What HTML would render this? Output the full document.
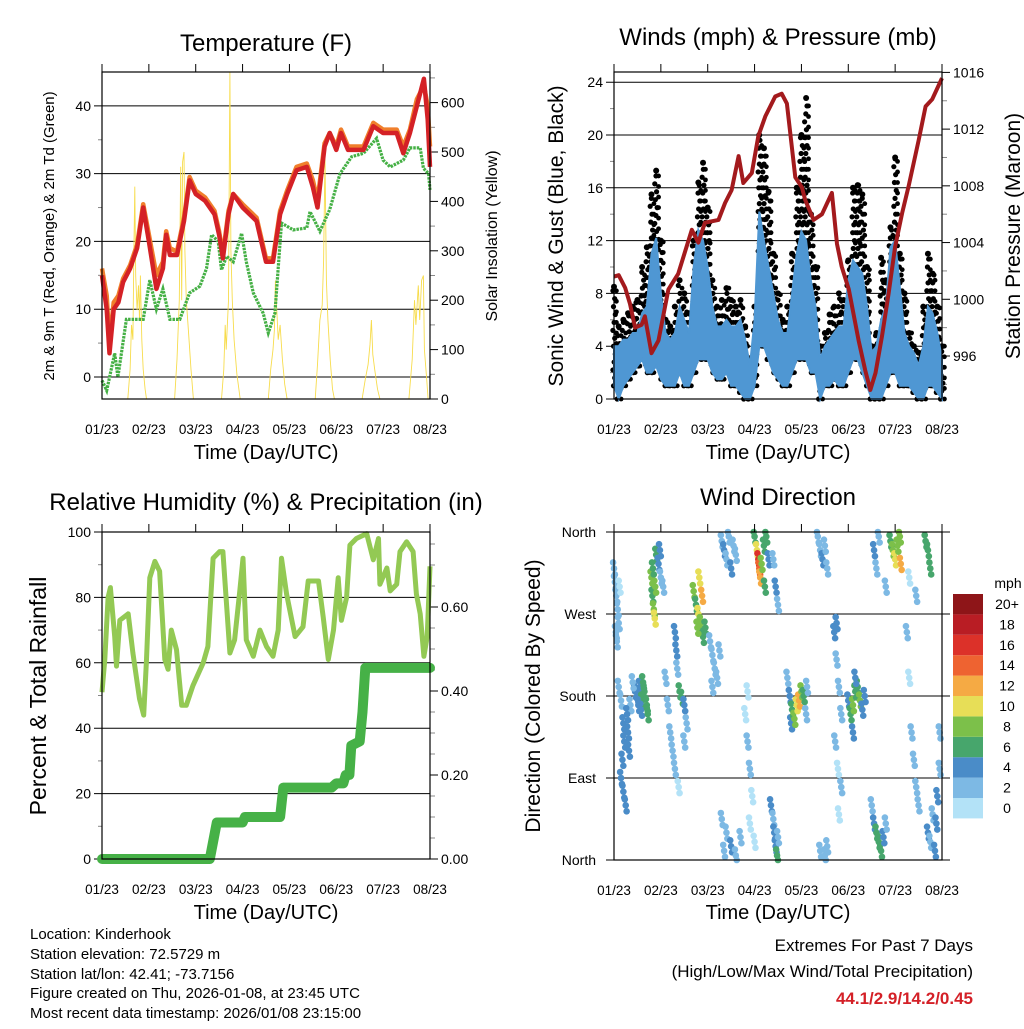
<!DOCTYPE html>
<html><head><meta charset="utf-8"><style>
html,body{margin:0;padding:0;background:#fff;}
svg text{font-family:"Liberation Sans",sans-serif;fill:#000;}
</style></head><body>
<svg id="c" width="1024" height="1024" viewBox="0 0 1024 1024" xmlns="http://www.w3.org/2000/svg">
<rect x="0" y="0" width="1024" height="1024" fill="#fff"/>
<text x="266" y="51" font-size="24" text-anchor="middle">Temperature (F)</text>
<text x="778" y="45" font-size="24" text-anchor="middle">Winds (mph) &amp; Pressure (mb)</text>
<text x="266" y="510" font-size="24" text-anchor="middle">Relative Humidity (%) &amp; Precipitation (in)</text>
<text x="778" y="505" font-size="24" text-anchor="middle">Wind Direction</text>
<text transform="translate(54,236) rotate(-90)" font-size="15" text-anchor="middle">2m &amp; 9m T (Red, Orange) &amp; 2m Td (Green)</text>
<text transform="translate(497,236) rotate(-90)" font-size="16" text-anchor="middle">Solar Insolation (Yellow)</text>
<text transform="translate(563,236) rotate(-90)" font-size="21" text-anchor="middle">Sonic Wind &amp; Gust (Blue, Black)</text>
<text transform="translate(1020,236) rotate(-90)" font-size="21" text-anchor="middle">Station Pressure (Maroon)</text>
<text transform="translate(46,696) rotate(-90)" font-size="23" text-anchor="middle">Percent &amp; Total Rainfall</text>
<text transform="translate(540,696) rotate(-90)" font-size="21" text-anchor="middle">Direction (Colored By Speed)</text>
<text x="266" y="459" font-size="20" text-anchor="middle">Time (Day/UTC)</text>
<text x="778" y="459" font-size="20" text-anchor="middle">Time (Day/UTC)</text>
<text x="266" y="919" font-size="20" text-anchor="middle">Time (Day/UTC)</text>
<text x="778" y="919" font-size="20" text-anchor="middle">Time (Day/UTC)</text>
<text x="30" y="939" font-size="15">Location: Kinderhook</text>
<text x="30" y="959" font-size="15">Station elevation: 72.5729 m</text>
<text x="30" y="979" font-size="15">Station lat/lon: 42.41; -73.7156</text>
<text x="30" y="998" font-size="15">Figure created on Thu, 2026-01-08, at 23:45 UTC</text>
<text x="30" y="1018" font-size="15">Most recent data timestamp: 2026/01/08 23:15:00</text>
<text x="973" y="951" font-size="17" text-anchor="end">Extremes For Past 7 Days</text>
<text x="973" y="977" font-size="17" text-anchor="end">(High/Low/Max Wind/Total Precipitation)</text>
<text x="973" y="1004" font-size="17" font-weight="bold" text-anchor="end" style="fill:#d42027">44.1/2.9/14.2/0.45</text>
</svg>
<script>
// ---- data ----
const dayLabels = ["01/23","02/23","03/23","04/23","05/23","06/23","07/23","08/23"];
const tempTimes = [0,0.1,0.16,0.25,0.35,0.45,0.6,0.75,0.88,1.0,1.16,1.3,1.37,1.45,1.6,1.75,1.87,2.0,2.2,2.4,2.5,2.58,2.7,2.8,3.0,3.3,3.5,3.65,3.8,3.95,4.15,4.37,4.5,4.6,4.75,4.86,5.0,5.1,5.25,5.58,5.79,6.0,6.29,6.43,6.57,6.72,6.87,6.95,7.0];
const temp2m = [15,10,3.5,10,11,14,16,19,25,20,13,16,21,18,18,23,29,27,26,24,21,17.5,24,27,25,23,17,17,24,27,30.5,31,28,25,34,36,33.5,36,33.5,33.5,37,36,36,33,36,40,44,38,31];
const temp9m = [16,12,5,11,12,14.5,16.5,19.5,25.5,21,15,17,21.5,19,18.5,23.5,29.5,27.5,26.5,24.5,21.5,18,24.5,27,25.5,23.5,17.5,17.5,24.5,27.5,31,31.5,29,26,34.5,36,34,36.5,34,34,37.5,36.5,36.5,34,36.5,41,43,40,34];
const dewTimes = [0,0.1,0.27,0.34,0.52,0.88,1.02,1.16,1.3,1.45,1.66,1.87,2.09,2.23,2.34,2.48,2.55,2.66,2.8,2.98,3.08,3.23,3.44,3.55,3.69,3.83,4.08,4.37,4.44,4.65,4.86,5.08,5.33,5.58,5.86,6.0,6.15,6.43,6.57,6.79,6.86,6.97,7.0];
const dew2m = [-0.5,-2,3.5,0,8.5,8.5,14.3,10,13,8.5,8.5,12.4,13.4,16,21,20,15.8,17.8,17,21.2,17,12.4,9.4,6.5,9.4,22.7,21.7,22,24.4,21.5,24.7,30,32.5,33,35.2,32,31,32,33.8,33.8,30.8,30,27.6];
const solarTimes = [0.55,0.6,0.63,0.66,0.68,0.7,0.72,0.75,0.78,0.8,0.82,0.85,0.88,0.92,0.95,
 1.55,1.6,1.65,1.68,1.7,1.72,1.75,1.77,1.8,1.85,1.9,1.95,
 2.55,2.6,2.63,2.65,2.7,2.73,2.75,2.78,2.82,2.88,2.95,
 3.55,3.6,3.65,3.68,3.7,3.73,3.76,3.8,3.85,3.9,3.95,
 4.55,4.6,4.65,4.7,4.73,4.76,4.79,4.82,4.87,4.92,4.96,
 5.55,5.62,5.68,5.72,5.75,5.78,5.82,5.88,5.93,
 6.55,6.62,6.67,6.7,6.75,6.78,6.82,6.86,6.88,6.93,6.96];
const solarValues = [0,60,150,120,300,430,250,180,230,160,250,120,60,20,0,
 0,80,200,470,200,480,500,300,200,130,60,0,
 0,60,150,100,200,663,300,200,120,50,0,
 0,60,100,140,240,180,120,150,80,30,0,
 0,70,160,190,280,490,240,160,80,20,0,
 0,40,70,110,160,90,60,20,0,
 0,80,200,150,230,160,240,250,100,40,0];
// wind, every 0.1 day from 01/23
const windHigh = [4,4,4.5,4.5,5,5,6.5,7,11,12.2,8,5,4.5,5,7,6,5,10,12.8,12,10,7,5.5,5.5,6,5.5,5.5,6,4.5,2.5,6,14.2,12,10,8,6,5,5,8,11,12.7,12,9,7,3,4,4.5,5,5.5,5.5,9,10.5,10,9.5,7,3.5,4,6,7,11.5,12,8.5,5,4,3.5,2.5,4,7,6.5,5,3];
const windLow = [1,0,1,1.5,2,2.5,3,2,2,2.5,1.5,1,1,1,2,1,1,2,3,3,3,2,1.5,1.5,2,1,1,0.5,0,0,1,4,4,3,2,1.5,1,1,2,3,3,3,2,2,0,1,1,1.5,1,1,2,3,3,2,1,0,0,0,1,2,2,1,1,1,0.5,0,0,1,1,0.5,0];
const windGust = [8.5,5.5,6,6.5,7,7.5,10,11.5,15.5,17.3,12,6,5.5,7,9,8,6.5,12,16.4,17.9,14.5,9,7,7.5,8.4,7.5,7,7.5,5.5,3,7,20,19,15.7,11,8,6,7,11,16,20,22.8,14,10,4,5,6.4,7,8,7.5,10.5,16,16.2,15.5,10,4,5,10.7,9,13,18.3,11,8,5,4,3.5,7,11,9.5,7,4];
const presTimes = [0,0.1,0.24,0.34,0.45,0.59,0.66,0.8,0.95,1.16,1.37,1.66,1.8,1.94,2.23,2.37,2.51,2.66,2.76,2.94,3.08,3.23,3.44,3.58,3.69,3.87,4.01,4.08,4.26,4.44,4.65,4.76,4.86,5.01,5.22,5.36,5.47,5.58,5.72,5.86,6.0,6.15,6.29,6.5,6.65,6.79,7.0];
const presValues = [1001.6,1001.7,1000.8,999.7,998,998.2,998.8,996.2,997.1,1000.7,1001.8,1004.9,1004,1005.4,1005.6,1006.8,1007.7,1010.1,1008.2,1008.9,1011.5,1012.9,1014.3,1014.5,1013.8,1008.6,1007.9,1007,1005.6,1006,1007.5,1003.9,1002.3,1000.7,997.1,995,993.6,994.8,997.4,1000.4,1003.7,1006.1,1008,1011.2,1013.6,1014.1,1015.6];
const rhTimes = [0,0.06,0.13,0.18,0.27,0.31,0.38,0.56,0.66,0.8,0.89,0.95,1.02,1.13,1.23,1.34,1.41,1.48,1.59,1.7,1.8,1.94,2.16,2.26,2.37,2.51,2.58,2.73,2.83,2.94,3.01,3.08,3.23,3.37,3.51,3.65,3.76,3.83,3.94,4.12,4.29,4.4,4.62,4.72,4.83,4.94,5.04,5.11,5.22,5.29,5.43,5.65,5.79,5.9,5.93,6.08,6.15,6.29,6.36,6.5,6.64,6.71,6.79,6.87,6.94,7.0];
const rhValues = [51,61,80,83,68,59,73,75,63,49,44,61,86,91,88,61,58,70,64,47,47,53,60,65,92,94,94,63,67,82,92,67,62,70,65,62,70,92,81,68,71,85,85,74,61,70,86,73,80,96,98,99.5,91.5,98,84,89,82,84,94,97,94,81,75,62,68,89.5];
const precipTimes = [0,2.3,2.45,3.0,3.05,3.8,3.87,4.9,5.0,5.15,5.2,5.28,5.32,5.5,5.56,5.62,7.0];
const precipValues = [0,0,0.087,0.087,0.1,0.1,0.17,0.17,0.18,0.18,0.2,0.2,0.27,0.28,0.35,0.455,0.455];
const dirTimes = [0.0,0.02,0.05,0.08,0.1,0.04,0.12,0.06,0.1,0.15,0.2,0.22,0.18,0.15,0.2,0.25,0.3,0.35,0.28,0.32,
0.45,0.5,0.55,0.6,0.65,0.7,0.62,0.58,0.52,0.72,0.4,
0.8,0.82,0.85,0.87,0.83,0.9,0.95,1.0,1.05,0.88,0.98,
1.1,1.15,1.2,1.25,1.3,1.33,1.35,1.4,1.45,1.5,1.55,1.5,1.3,1.38,
1.7,1.75,1.8,1.85,1.9,1.82,1.88,1.95,1.78,
2.05,2.1,2.15,2.2,2.1,2.25,
2.3,2.35,2.4,2.45,2.5,2.55,2.6,2.3,2.4,2.5,2.6,2.7,2.35,
2.8,2.85,2.9,2.95,2.9,3.0,2.85,
3.0,3.05,3.08,3.1,3.12,3.15,3.2,3.25,3.22,3.3,
3.35,3.4,3.42,3.45,3.48,3.5,3.4,3.45,3.5,
3.7,3.75,3.78,3.8,3.85,3.9,3.95,4.0,4.05,4.1,4.12,
4.35,4.4,4.45,4.5,4.55,4.4,4.5,4.55,
4.7,4.75,4.8,4.72,4.78,4.85,4.8,4.75,4.85,
5.0,5.05,5.1,5.15,5.2,5.25,5.3,5.1,5.35,5.15,
5.5,5.55,5.6,5.65,5.7,5.75,5.8,5.55,5.6,5.65,5.8,
5.9,5.95,6.0,6.05,6.1,6.12,
6.25,6.3,6.35,6.4,6.45,6.5,6.3,6.45,
6.65,6.7,6.75,6.7,6.75,6.8,6.85,6.9,6.95,6.95,6.88];
const dirDegrees = [320,305,290,275,260,250,300,240,190,175,150,130,110,90,75,60,140,170,160,120,
185,180,190,175,185,170,195,165,170,160,195,
310,290,275,265,320,335,325,310,300,300,340,
200,170,140,120,250,230,210,185,178,170,150,130,100,80,
295,280,270,260,245,310,290,255,255,
240,225,210,200,190,230,
350,340,330,355,320,345,335,45,30,15,5,25,10,
160,130,100,70,40,20,185,
355,340,330,320,310,325,345,355,300,330,
60,45,30,15,5,25,330,300,280,
200,180,150,165,155,170,175,185,180,160,190,
355,340,330,345,320,10,5,15,
250,220,190,130,100,80,50,260,160,
175,160,170,185,190,175,165,140,180,200,
60,40,30,20,10,25,40,340,320,355,300,
350,340,330,345,355,325,
250,200,140,110,80,60,310,290,
350,340,320,30,20,50,10,70,100,140,40];
const dirSpeeds = [2,3,2,2,2,2,1,2,3,2,4,4,4,4,4,4,4,3,4,4,
4,4,5,6,6,7,6,4,4,6,3,
9,7,8,10,7,6,4,3,3,8,4,
3,2,3,2,4,4,3,6,6,4,2,3,2,1,
8,6,10,8,7,10,12,6,8,
2,2,3,2,2,2,
3,4,3,3,4,3,2,2,3,4,3,2,2,
1,2,2,1,1,0,1,
6,10,16,14,12,8,6,7,6,4,
4,3,4,4,6,3,3,4,2,
3,4,4,6,8,10,12,8,6,2,3,
2,3,4,2,3,2,3,2,
4,3,2,2,1,2,1,4,3,
4,6,8,7,6,8,4,4,5,5,
3,4,6,7,6,4,3,4,2,3,2,
6,8,10,9,8,12,
2,1,2,3,3,2,1,2,
6,6,6,4,3,2,5,4,3,2,4];
const legendLabels = ["0","2","4","6","8","10","12","14","16","18","20+"];
const speedColors = ["#b3e2f7","#7db9e4","#4a8cc8","#47a66c","#7cc04a","#e7de57","#f5aa44","#ee6331","#dc3129","#b91d24","#8e1518"];

// ---- helpers ----
const svg = document.getElementById('c');
const NS = 'http://www.w3.org/2000/svg';
function mk(tag, attrs, name, parent) {
  const el = document.createElementNS(NS, tag);
  for (const k in attrs) el.setAttribute(k, attrs[k]);
  
  
  (parent || svg).appendChild(el);
  return el;
}
const PW = 328, DAYS = 7;
function xAt(x0) { return d => x0 + d / DAYS * PW; }
function lin(v0, p0, v1, p1) { return v => p0 + (v - v0) * (p1 - p0) / (v1 - v0); }
function pathFrom(ts, vs, xf, yf) { return ts.map((t, i) => (i ? 'L' : 'M') + xf(t).toFixed(1) + ',' + yf(vs[i]).toFixed(1)).join(''); }

function frame(x0, top, bottom, name) {
  const g = mk('g', {}, name + '-axes');
  mk('rect', {x: x0, y: top, width: PW, height: bottom - top, fill: 'none', stroke: '#000', 'stroke-width': 1.2}, name + '-frame', g);
  const xf = xAt(x0);
  dayLabels.forEach((lab, i) => {
    const x = xf(i);
    mk('line', {x1: x, x2: x, y1: top - 8, y2: top, stroke: '#000', 'stroke-width': 1}, name + '-x-tick', g);
    const t = mk('text', {x: x, y: bottom + 35, 'font-size': 13.5, 'text-anchor': 'middle'}, name + '-x-tick-label', g);
    t.textContent = lab;
  });
  return g;
}
function leftAxis(x0, ticks, yf, fmt, name, grid, minor) {
  ticks.forEach(v => {
    const y = yf(v);
    mk('line', {x1: x0 - 8, x2: grid ? x0 + PW : x0, y1: y, y2: y, stroke: '#000', 'stroke-width': 1}, name + '-gridline', svg);
    const t = mk('text', {x: x0 - 11, y: y + 5, 'font-size': 14, 'text-anchor': 'end'}, name + '-tick-label', svg);
    t.textContent = fmt(v);
  });
  (minor || []).forEach(v => { const y = yf(v); mk('line', {x1: x0 - 4, x2: x0, y1: y, y2: y, stroke: '#888', 'stroke-width': 1}, name + '-minor-tick', svg); });
}
function rightAxis(x1, ticks, yf, fmt, name, minor) {
  ticks.forEach(v => {
    const y = yf(v);
    mk('line', {x1: x1, x2: x1 + 8, y1: y, y2: y, stroke: '#000', 'stroke-width': 1}, name + '-tick', svg);
    const t = mk('text', {x: x1 + 11, y: y + 5, 'font-size': 14}, name + '-tick-label', svg);
    t.textContent = fmt(v);
  });
  (minor || []).forEach(v => { const y = yf(v); mk('line', {x1: x1, x2: x1 + 5, y1: y, y2: y, stroke: '#888', 'stroke-width': 1}, name + '-minor-tick', svg); });
}

// ---- Temperature panel ----
{
  const xf = xAt(102);
  const yT = lin(-3.25, 399, 45, 72);
  const yS = lin(0, 399, 600, 102.6);
  leftAxis(102, [0,10,20,30,40], yT, v => v, 'temp-y', true, [5,15,25,35]);
  rightAxis(430, [0,100,200,300,400,500,600], yS, v => v, 'solar-y', [50,150,250,350,450,550,650]);
  mk('path', {d: pathFrom(solarTimes, solarValues, xf, yS), fill: 'none', stroke: '#f7dc4c', 'stroke-width': 0.9}, 'solar-line');
  mk('path', {d: pathFrom(dewTimes, dew2m, xf, yT), fill: 'none', stroke: '#45b045', 'stroke-width': 3.2, 'stroke-dasharray': '2.5 1'}, 'dewpoint-line');
  mk('path', {d: pathFrom(tempTimes, temp9m, xf, yT), fill: 'none', stroke: '#f07f2c', 'stroke-width': 4.5, 'stroke-linejoin': 'round'}, 'temp-9m-line');
  mk('path', {d: pathFrom(tempTimes, temp2m, xf, yT), fill: 'none', stroke: '#d42126', 'stroke-width': 4.5, 'stroke-linejoin': 'round'}, 'temp-2m-line');
  frame(102, 72, 399, 'temp');
}
// ---- Wind panel ----
{
  const xf = xAt(614);
  const yW = lin(0, 399, 24, 82.2);
  const yP = lin(996, 356, 1016, 72.4);
  const wt = windGust.map((_, i) => i * 0.1);
  leftAxis(614, [0,4,8,12,16,20,24], yW, v => v, 'wind-y', true, [2,6,10,14,18,22]);
  rightAxis(942, [996,1000,1004,1008,1012,1016], yP, v => v, 'pressure-y', [994,998,1002,1006,1010,1014]);
  wt.forEach((t, i) => {
    for (let v = windLow[i]; v <= windGust[i]; v += 0.6) {
      mk('circle', {cx: xf(t) + ((v * 7) % 3) - 1.5, cy: yW(v), r: 2.6, fill: '#000'}, 'gust-point');
    }
    for (let v = windLow[i]; v <= windGust[i]; v += 0.8) {
      mk('circle', {cx: xf(t) + 2.4, cy: yW(v), r: 2.4, fill: '#000'}, 'gust-point');
    }
    mk('circle', {cx: xf(t), cy: yW(windGust[i]), r: 3, fill: '#000'}, 'gust-peak-point');
  });
  const lowBack = wt.map((t, i) => xf(t).toFixed(1) + ',' + yW(windLow[i]).toFixed(1)).reverse();
  const hiTop = wt.map((t, i) => xf(t).toFixed(1) + ',' + yW(windHigh[i]).toFixed(1));
  mk('polygon', {points: hiTop.concat(lowBack).join(' '), fill: '#4f97d3', stroke: '#4f97d3', 'stroke-width': 2}, 'wind-area');
  mk('path', {d: pathFrom(presTimes, presValues, xf, yP), fill: 'none', stroke: '#a31a1d', 'stroke-width': 4, 'stroke-linejoin': 'round'}, 'pressure-line');
  frame(614, 72, 399, 'wind');
}
// ---- RH panel ----
{
  const xf = xAt(102);
  const yR = lin(0, 859, 100, 532);
  const yQ = lin(0, 859, 0.6, 607);
  leftAxis(102, [0,20,40,60,80,100], yR, v => v, 'rh-y', true, [10,30,50,70,90]);
  rightAxis(430, [0,0.2,0.4,0.6], yQ, v => v.toFixed(2), 'precip-y', [0.05,0.1,0.15,0.25,0.3,0.35,0.45,0.5,0.55,0.65,0.7,0.75]);
  mk('path', {d: pathFrom(rhTimes, rhValues, xf, yR), fill: 'none', stroke: '#93c954', 'stroke-width': 5, 'stroke-linejoin': 'round'}, 'humidity-line');
  mk('path', {d: pathFrom(precipTimes, precipValues, xf, yQ), fill: 'none', stroke: '#46b147', 'stroke-width': 10, 'stroke-linejoin': 'round', 'stroke-linecap': 'round'}, 'precipitation-line');
  frame(102, 532, 859, 'rh');
}
// ---- Wind direction panel ----
{
  const xf = xAt(614);
  const yD = lin(0, 860, 360, 532);
  const names = ["North","East","South","West","North"];
  [0,90,180,270,360].forEach((v, i) => {
    const y = yD(v);
    mk('line', {x1: 606, x2: 950, y1: y, y2: y, stroke: '#000', 'stroke-width': 1}, 'direction-gridline');
    const t = mk('text', {x: 596, y: y + 5, 'font-size': 14, 'text-anchor': 'end'}, 'direction-tick-label');
    t.textContent = names[i];
  });
  dirTimes.forEach((t, i) => {
    const ci = Math.min(10, Math.floor(dirSpeeds[i] / 2));
    const x = xf(t), y = yD(dirDegrees[i]);
    [-6, 0, 6].forEach(dy => {
      const yy = Math.max(532, Math.min(860, y + dy));
      mk('circle', {cx: x + dy * 0.15, cy: yy, r: 3.3, fill: speedColors[ci]}, 'direction-point');
    });
  });
  frame(614, 532, 860, 'direction');
  const lg = mk('g', {}, 'speed-legend');
  const lt = mk('text', {x: 1008, y: 588, 'font-size': 14, 'text-anchor': 'middle'}, 'legend-unit', lg);
  lt.textContent = 'mph';
  legendLabels.forEach((lab, i) => {
    const y = 594 + (10 - i) * 20.4;
    mk('rect', {x: 953, y: y, width: 30, height: 20.4, fill: speedColors[i]}, 'legend-swatch', lg);
    const t = mk('text', {x: 1007, y: y + 15, 'font-size': 14, 'text-anchor': 'middle'}, 'legend-label', lg);
    t.textContent = lab;
  });
}
</script>
</body></html>
